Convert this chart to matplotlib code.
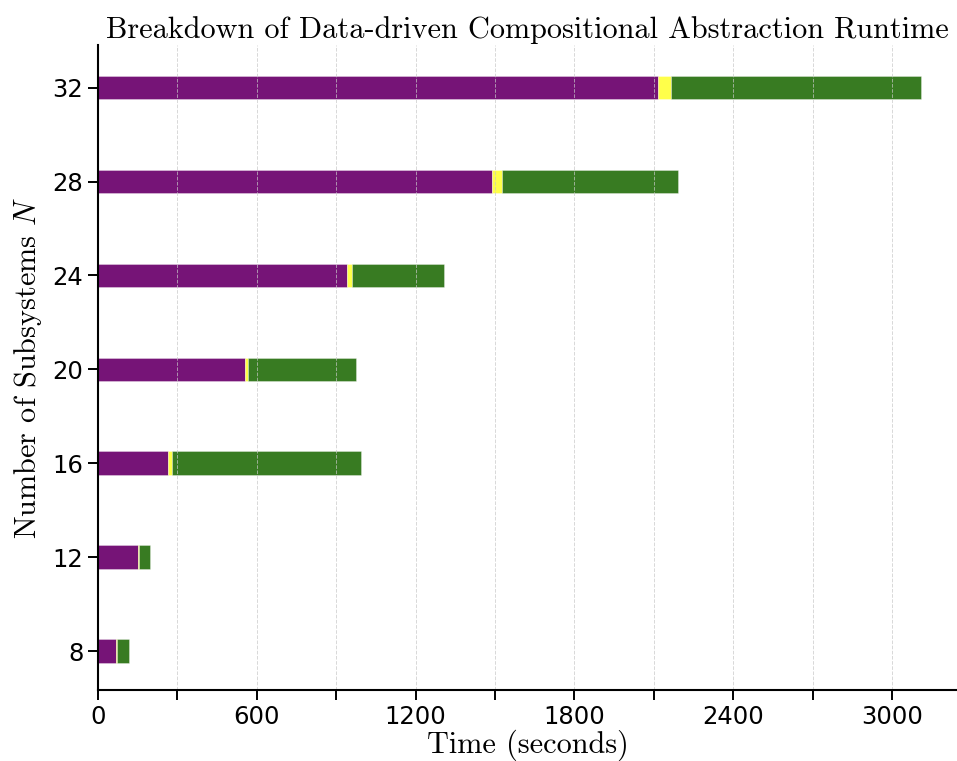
import numpy as np
import matplotlib
matplotlib.use("Agg")
import matplotlib.pyplot as plt
from matplotlib.ticker import MultipleLocator, FuncFormatter

plt.rcParams['mathtext.fontset'] = 'cm'

# runtime breakdown per number of subsystems (seconds)
n_subsystems = [8, 12, 16, 20, 24, 28, 32]
t_sampling = [69, 151, 264, 556, 941, 1490, 2116]
t_compose = [2, 3, 14, 12, 17, 35, 50]
t_synthesis = [45, 44, 717, 407, 350, 666, 944]

purple = '#761477'
yellow = '#ffff4a'
green = '#387b22'

fig = plt.figure(figsize=(9.57, 7.61), dpi=100)
ax = fig.add_axes([0.1024, 0.0933, 0.8976, 0.848])

y = np.array(n_subsystems)
left = np.zeros(len(y))
for vals, col in [(t_sampling, purple), (t_compose, yellow), (t_synthesis, green)]:
    ax.barh(y, vals, height=1.0, left=left, color=col,
            edgecolor=(1, 1, 1, 0.45), linewidth=0.5, zorder=1)
    left = left + np.array(vals)

ax.set_xlim(0, 3245)
ax.set_ylim(6.34, 33.83)
ax.set_yticks(n_subsystems)

ax.xaxis.set_major_locator(MultipleLocator(300))
ax.xaxis.set_major_formatter(FuncFormatter(lambda v, p: '%d' % v if v % 600 == 0 else ''))
ax.grid(axis='x', color='#c8c8c8', linestyle='--', linewidth=0.7, alpha=0.7, zorder=2)
ax.set_axisbelow(False)

ax.tick_params(axis='both', labelsize=17.5, length=7, width=1.4, direction='out')
for s in ['top', 'right']:
    ax.spines[s].set_visible(False)
for s in ['left', 'bottom']:
    ax.spines[s].set_linewidth(1.5)
    ax.spines[s].set_zorder(3)

ax.set_title('Breakdown of Data-driven Compositional Abstraction Runtime',
             fontfamily='cmr10', fontsize=21.8, pad=5)
ax.set_xlabel('Time (seconds)', fontfamily='cmr10', fontsize=21.8, labelpad=1)
ax.set_ylabel('Number of Subsystems $N$', fontfamily='cmr10', fontsize=21.8, labelpad=6)

fig.savefig('out.png', dpi=100)
